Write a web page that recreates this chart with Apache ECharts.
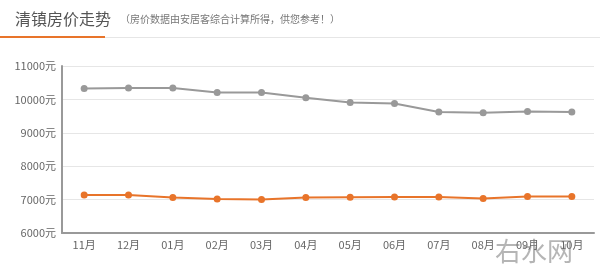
<!DOCTYPE html>
<html><head><meta charset="utf-8">
<script src="https://cdn.jsdelivr.net/npm/echarts@6/dist/echarts.min.js"></script>
<style>html,body{margin:0;padding:0;background:#fff;}#c{width:600px;height:273px;}</style>
</head><body><div id="c"></div>
<script>
var categories = ['11月','12月','01月','02月','03月','04月','05月','06月','07月','08月','09月','10月'];
var grayValues = [10330,10340,10340,10210,10210,10050,9910,9880,9620,9600,9640,9620];
var orangeValues = [7140,7140,7060,7020,7000,7060,7070,7080,7080,7030,7090,7090];
var yTicks = [6000,7000,8000,9000,10000,11000];
var titleText = '清镇房价走势';
var subText = '（房价数据由安居客综合计算所得，供您参考！）';
var watermark = '右水网';

var chart = echarts.init(document.getElementById('c'));
chart.setOption({
  backgroundColor:'#fff',
  animation:false,
  graphic:[
    {type:'rect',shape:{x:0,y:37,width:600,height:1},style:{fill:'#e6e6e6'}},
    {type:'rect',shape:{x:0,y:36,width:105,height:2},style:{fill:'#e8742a'}},
    {type:'text',left:15,top:11,style:{text:titleText,font:'16px "Noto Sans CJK SC"',fill:'#555'}},
    {type:'text',left:120,top:14,style:{text:subText,font:'10px "Noto Sans CJK SC"',fill:'#777'}},
    {type:'text',left:495,top:238,z:100,style:{text:watermark,font:'26px "Noto Sans CJK SC"',fill:'rgba(120,120,120,0.55)'}}
  ],
  grid:{left:62,right:6,top:66,bottom:40},
  xAxis:{type:'category',data:categories,boundaryGap:true,
    axisLine:{lineStyle:{color:'#999',width:2}},axisTick:{show:false},
    axisLabel:{color:'#666',fontSize:11,margin:6,fontFamily:'"Noto Sans CJK SC"'}},
  yAxis:{type:'value',min:6000,max:11000,interval:1000,
    axisLine:{show:true,lineStyle:{color:'#999',width:2}},axisTick:{show:false},
    splitLine:{lineStyle:{color:'#e6e6e6'}},
    axisLabel:{color:'#666',fontSize:11,margin:6,fontFamily:'"Noto Sans CJK SC"',formatter:function(v){return yTicks.indexOf(v)>=0? v+'元':'';}}},
  series:[
    {type:'line',data:grayValues,symbol:'circle',symbolSize:7,
      lineStyle:{color:'#999',width:2},itemStyle:{color:'#999'}},
    {type:'line',data:orangeValues,symbol:'circle',symbolSize:7,
      lineStyle:{color:'#e8742a',width:2},itemStyle:{color:'#e8742a'}}
  ]
});
</script></body></html>
